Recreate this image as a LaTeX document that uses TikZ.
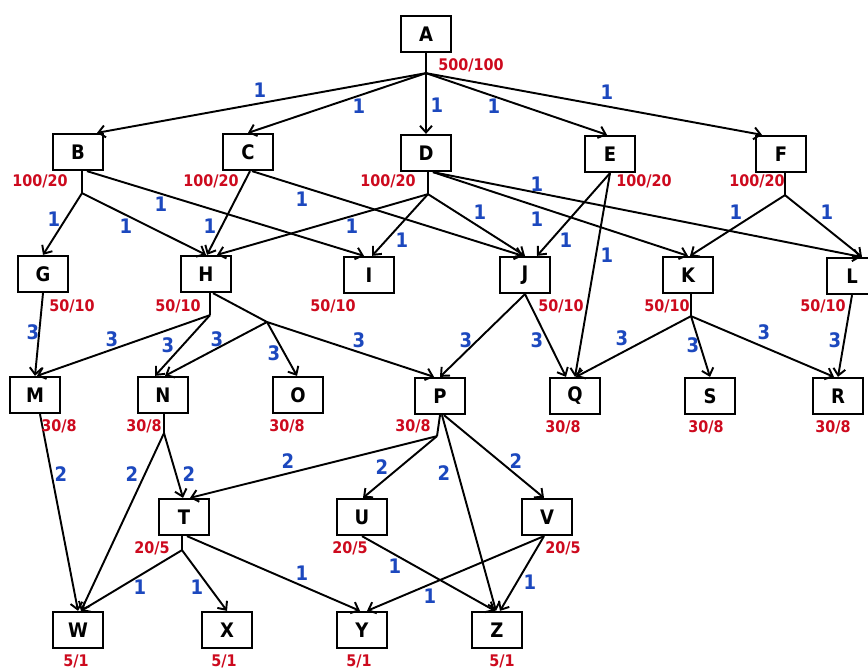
\documentclass[tikz,border=0pt]{standalone}
\usepackage{fontspec}
\setmainfont{DejaVu Sans}
\newfontfamily\condfont{DejaVu Sans Condensed}
\usetikzlibrary{arrows.meta,calc}
\definecolor{numblue}{RGB}{28,72,190}
\definecolor{numred}{RGB}{205,10,30}
\begin{document}
\begin{tikzpicture}[x=0.75pt,y=-0.75pt,
  box/.style={draw, line width=1.7pt, minimum width=37.5pt, minimum height=27pt, inner sep=0pt, font=\condfont\fontsize{15}{15}\selectfont\bfseries},
  wt/.style={text=numblue, font=\condfont\fontsize{15}{15}\selectfont\bfseries, inner sep=0pt},
  cp/.style={text=numred, font=\condfont\fontsize{12}{12}\selectfont\bfseries, inner sep=0pt},
  ln/.style={line width=1.45pt},
  arr/.style={ln, -{Straight Barb[length=5pt,width=9pt]}}
]
\fill[white] (0,0) rectangle (868,668);
\useasboundingbox (0,0) rectangle (868,668);

% nodes
\node[box] (A) at (426,34) {A};
\node[box] (B) at (78,152) {B};
\node[box] (C) at (248,152) {C};
\node[box] (D) at (426,153) {D};
\node[box] (E) at (610,154) {E};
\node[box] (F) at (781,154) {F};
\node[box] (G) at (43,274) {G};
\node[box] (H) at (206,274) {H};
\node[box] (I) at (369,275) {I};
\node[box] (J) at (525,275) {J};
\node[box] (K) at (688,275) {K};
\node[box] (L) at (852,276) {L};
\node[box] (M) at (35,395) {M};
\node[box] (N) at (163,395) {N};
\node[box] (O) at (298,395) {O};
\node[box] (P) at (440,396) {P};
\node[box] (Q) at (575,396) {Q};
\node[box] (S) at (710,396) {S};
\node[box] (R) at (838,396) {R};
\node[box] (T) at (184,517) {T};
\node[box] (U) at (362,517) {U};
\node[box] (V) at (547,517) {V};
\node[box] (W) at (78,630) {W};
\node[box] (X) at (227,630) {X};
\node[box] (Y) at (362,630) {Y};
\node[box] (Z) at (497,630) {Z};

% junctions
\coordinate (a0) at ($(A.south)+(0,20)$);
\coordinate (b0) at ($(B.south)+(4,22)$);
\coordinate (d0) at ($(D.south)+(2,22)$);
\coordinate (f0) at ($(F.south)+(4,22)$);
\coordinate (h0) at ($(H.south)+(4,22)$);
\coordinate (h1) at (267,322);
\coordinate (k0) at ($(K.south)+(3,22)$);
\coordinate (n0) at ($(N.south)+(1,19)$);
\coordinate (p0) at ($(P.south)+(-3,21)$);
\coordinate (t0) at ($(T.south)+(-2,14)$);

% A
\draw[ln] (A.south) -- (a0);
\draw[arr] (a0) -- ($(B.north)+(19,0)$);
\draw[arr] (a0) -- (C.north);
\draw[arr] (a0) -- (D.north);
\draw[arr] (a0) -- ($(E.north)+(-3,0)$);
\draw[arr] (a0) -- ($(F.north)+(-19,0)$);
% B
\draw[ln] ($(B.south)+(4,0)$) -- (b0);
\draw[arr] (b0) -- (G.north);
\draw[arr] (b0) -- (H.north);
\draw[arr] ($(B.south)+(9,0)$) -- ($(I.north)+(-5,0)$);
% C
\draw[arr] ($(C.south)+(2,0)$) -- ($(H.north)+(1,0)$);
\draw[arr] ($(C.south)+(4,0)$) -- ($(J.north)+(-2,0)$);
% D
\draw[ln] ($(D.south)+(2,0)$) -- (d0);
\draw[arr] (d0) -- ($(H.north)+(11,0)$);
\draw[arr] (d0) -- ($(I.north)+(3,0)$);
\draw[arr] (d0) -- (J.north);
\draw[arr] ($(D.south)+(7,0)$) -- (K.north);
\draw[arr] ($(D.south)+(7,0)$) -- ($(L.north)+(9,0)$);
% E
\draw[arr] (E.south) -- ($(J.north)+(12,0)$);
\draw[arr] (E.south) -- (Q.north);
% F
\draw[ln] ($(F.south)+(4,0)$) -- (f0);
\draw[arr] (f0) -- ($(K.north)+(2,0)$);
\draw[arr] (f0) -- ($(L.north)+(10,0)$);
% G
\draw[arr] (G.south) -- (M.north);
% H
\draw[ln] ($(H.south)+(4,0)$) -- (h0);
\draw[arr] (h0) -- ($(M.north)+(2,0)$);
\draw[arr] (h0) -- ($(N.north)+(-8,0)$);
\draw[ln] ($(H.south)+(7,0)$) -- (h1);
\draw[arr] (h1) -- ($(N.north)+(2,0)$);
\draw[arr] (h1) -- ($(O.north)+(-1,0)$);
\draw[arr] (h1) -- ($(P.north)+(-6,0)$);
% J
\draw[arr] (J.south) -- (P.north);
\draw[arr] (J.south) -- ($(Q.north)+(-9,0)$);
% K
\draw[ln] ($(K.south)+(3,0)$) -- (k0);
\draw[arr] (k0) -- ($(Q.north)+(1,0)$);
\draw[arr] (k0) -- (S.north);
\draw[arr] (k0) -- ($(R.north)+(-4,0)$);
% L
\draw[arr] (L.south) -- (R.north);
% M
\draw[arr] ($(M.south)+(5,0)$) -- (W.north);
% N
\draw[ln] ($(N.south)+(1,0)$) -- (n0);
\draw[arr] (n0) -- ($(W.north)+(3,0)$);
\draw[arr] (n0) -- ($(T.north)+(-1,0)$);
% P
\draw[ln] (P.south) -- (p0);
\draw[arr] (p0) -- ($(T.north)+(6,0)$);
\draw[arr] (p0) -- ($(U.north)+(1,0)$);
\draw[arr] ($(P.south)+(2,0)$) -- ($(Z.north)+(-1,0)$);
\draw[arr] ($(P.south)+(4,0)$) -- ($(V.north)+(-3,0)$);
% T
\draw[ln] ($(T.south)+(-2,0)$) -- (t0);
\draw[arr] (t0) -- ($(W.north)+(3,0)$);
\draw[arr] (t0) -- (X.north);
\draw[arr] ($(T.south)+(3,0)$) -- ($(Y.north)+(-2,0)$);
% U
\draw[arr] (U.south) -- ($(Z.north)+(-2,0)$);
% V
\draw[arr] ($(V.south)+(-3,0)$) -- ($(Y.north)+(5,0)$);
\draw[arr] ($(V.south)+(-3,0)$) -- ($(Z.north)+(3,0)$);

% red capacity labels
\node[cp] (cA) at (471,65) {500/100};
\node[cp] (cB) at (40,181) {100/20};
\node[cp] (cC) at (211,181) {100/20};
\node[cp] (cD) at (388,181) {100/20};
\node[cp] (cE) at (644,181) {100/20};
\node[cp] (cF) at (757,181) {100/20};
\node[cp] (cG) at (72,306) {50/10};
\node[cp] (cH) at (178,306) {50/10};
\node[cp] (cI) at (333,306) {50/10};
\node[cp] (cJ) at (561,306) {50/10};
\node[cp] (cK) at (667,306) {50/10};
\node[cp] (cL) at (823,306) {50/10};
\node[cp] (cM) at (59,426) {30/8};
\node[cp] (cN) at (144,426) {30/8};
\node[cp] (cO) at (287,426) {30/8};
\node[cp] (cP) at (413,426) {30/8};
\node[cp] (cQ) at (563,427) {30/8};
\node[cp] (cS) at (706,427) {30/8};
\node[cp] (cR) at (833,427) {30/8};
\node[cp] (cT) at (152,548) {20/5};
\node[cp] (cU) at (350,548) {20/5};
\node[cp] (cV) at (563,548) {20/5};
\node[cp] (cW) at (76,661) {5/1};
\node[cp] (cX) at (224,661) {5/1};
\node[cp] (cY) at (359,661) {5/1};
\node[cp] (cZ) at (502,661) {5/1};

% blue weights
\node[wt] (wAB) at (260,90) {1};
\node[wt] (wAC) at (359,106) {1};
\node[wt] (wAD) at (437,105) {1};
\node[wt] (wAE) at (494,106) {1};
\node[wt] (wAF) at (607,92) {1};
\node[wt] (wBG) at (54,219) {1};
\node[wt] (wBH) at (126,226) {1};
\node[wt] (wBI) at (161,204) {1};
\node[wt] (wCH) at (210,226) {1};
\node[wt] (wCJ) at (302,199) {1};
\node[wt] (wDH) at (352,226) {1};
\node[wt] (wDI) at (402,240) {1};
\node[wt] (wDL) at (537,184) {1};
\node[wt] (wDJ) at (480,212) {1};
\node[wt] (wDK) at (537,219) {1};
\node[wt] (wEJ) at (566,240) {1};
\node[wt] (wEQ) at (607,255) {1};
\node[wt] (wFK) at (736,212) {1};
\node[wt] (wFL) at (827,212) {1};
\node[wt] (wGM) at (33,332) {3};
\node[wt] (wHM) at (112,339) {3};
\node[wt] (wHN) at (168,345) {3};
\node[wt] (wH1N) at (217,339) {3};
\node[wt] (wHO) at (274,353) {3};
\node[wt] (wHP) at (359,340) {3};
\node[wt] (wJP) at (466,340) {3};
\node[wt] (wJQ) at (537,340) {3};
\node[wt] (wKQ) at (622,338) {3};
\node[wt] (wKS) at (693,345) {3};
\node[wt] (wKR) at (764,332) {3};
\node[wt] (wLR) at (835,340) {3};
\node[wt] (wMW) at (61,474) {2};
\node[wt] (wNW) at (132,474) {2};
\node[wt] (wNT) at (189,474) {2};
\node[wt] (wPT) at (288,461) {2};
\node[wt] (wPU) at (382,467) {2};
\node[wt] (wPZ) at (444,473) {2};
\node[wt] (wPV) at (516,461) {2};
\node[wt] (wTW) at (140,587) {1};
\node[wt] (wTX) at (197,587) {1};
\node[wt] (wTY) at (302,573) {1};
\node[wt] (wUZ) at (395,566) {1};
\node[wt] (wVY) at (430,596) {1};
\node[wt] (wVZ) at (530,582) {1};
\end{tikzpicture}
\end{document}
